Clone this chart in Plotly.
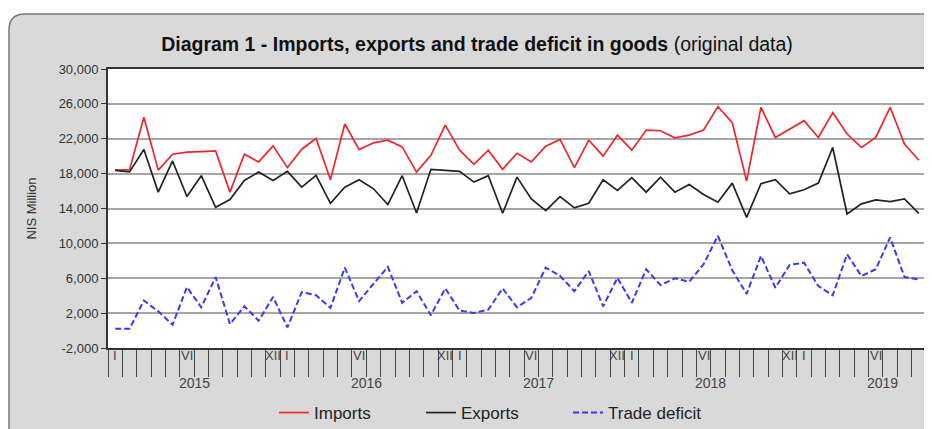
import plotly.graph_objects as go

years = [2015, 2016, 2017, 2018, 2019]
months_in_year = [12, 12, 12, 12, 9]
month_marks = {0: "I", 5: "VI", 11: "XII"}

imports = [18400, 18450, 24460, 18400, 20230, 20460, 20530, 20600, 15880, 20230, 19340, 21190,
           18690, 20800, 22030, 17300, 23690, 20760, 21530, 21840, 21070, 18180, 20100, 23570,
           20690, 19070, 20690, 18490, 20340, 19340, 21150, 21920, 18690, 21840, 20000, 22420,
           20690, 23000, 22920, 22110, 22420, 23000, 25690, 23840, 17150, 25610, 22150, 23070,
           24070, 22150, 25000, 22540, 21000, 22150, 25610, 21380, 19530]
exports = [18380, 18200, 20760, 15880, 19450, 15380, 17760, 14140, 15030, 17220, 18180, 17220,
           18260, 16450, 17800, 14600, 16450, 17300, 16260, 14450, 17760, 13490, 18490, 18380,
           18260, 17030, 17760, 13450, 17600, 15100, 13760, 15370, 14070, 14600, 17300, 16070,
           17530, 15870, 17600, 15870, 16760, 15600, 14720, 16910, 12990, 16840, 17300, 15680,
           16150, 16910, 21000, 13370, 14530, 14990, 14800, 15100, 13450]
deficit = [200, 200, 3440, 2200, 670, 4980, 2670, 6130, 740, 2780, 1130, 3860,
           360, 4400, 4050, 2600, 7220, 3370, 5370, 7300, 3180, 4520, 1750, 4830,
           2290, 2020, 2400, 4830, 2670, 3750, 7220, 6260, 4520, 6830, 2780, 6060,
           3180, 7030, 5220, 5990, 5600, 7600, 10870, 6910, 4210, 8560, 4910, 7530,
           7790, 5100, 4050, 8750, 6260, 7030, 10680, 6140, 5870]
y_ticks = list(range(-2000, 30001, 4000))
y_ticktext = [f"{v:,}" for v in y_ticks]

n = len(imports)
x = list(range(n))

FONT = "Liberation Sans, Arial, sans-serif"

fig = go.Figure()
fig.add_trace(go.Scatter(x=x, y=imports, mode="lines", name="Imports",
                         line=dict(color="#f0262b", width=1.7)))
fig.add_trace(go.Scatter(x=x, y=exports, mode="lines", name="Exports",
                         line=dict(color="#222222", width=1.7)))
fig.add_trace(go.Scatter(x=x, y=deficit, mode="lines", name="Trade deficit",
                         line=dict(color="#3a3af0", width=2, dash="6px,3px")))

# page geometry (the page body has an 8px margin, so the figure starts at 8,8)
OFF = 8
PW, PH = 932, 429
W, H = PW - OFF, PH - OFF
# plot area in page pixels
PL, PR, PT, PB = 108, 926, 69, 348
L, T = PL - OFF, PT - OFF
R, B = W - (PR - OFF), H - (PB - OFF)
pw, ph = W - L - R, H - T - B

def px(xp):
    return (xp - PL) / pw

def py(yp):
    return (PB - yp) / ph

# rounded frame
x0, y0, x1, y1, r = 9, 14, 960, 460, 16
path = (f"M {px(x0)},{py(y0 + r)} Q {px(x0)},{py(y0)} {px(x0 + r)},{py(y0)} "
        f"L {px(x1)},{py(y0)} L {px(x1)},{py(y1)} L {px(x0)},{py(y1)} Z")
shapes = [
    dict(type="path", xref="paper", yref="paper", path=path,
         fillcolor="#d9d9d9", line=dict(color="#7a7a7a", width=1.5), layer="below"),
    dict(type="rect", xref="paper", yref="paper", x0=0, x1=1, y0=0, y1=1,
         fillcolor="white", line=dict(width=0), layer="below"),
]

annotations = []
start = 0
major_ticks = []
minor_ticks = []
for yr, m in zip(years, months_in_year):
    major_ticks.append(start - 0.5)
    for k in range(m):
        minor_ticks.append(start + k - 0.5)
        if k in month_marks:
            annotations.append(dict(x=start + k, y=py(365), xref="x", yref="paper",
                                    text=month_marks[k], showarrow=False,
                                    font=dict(family=FONT, size=13, color="#444444")))
    annotations.append(dict(x=start + 5.5, y=py(393), xref="x", yref="paper",
                            text=str(yr), showarrow=False,
                            font=dict(family=FONT, size=14, color="#444444")))
    start += m
minor_ticks.append(start - 0.5)

fig.update_layout(
    width=W, height=H,
    margin=dict(l=L, r=R, t=T, b=B, autoexpand=False),
    paper_bgcolor="white",
    plot_bgcolor="white",
    shapes=shapes,
    annotations=annotations,
    title=dict(text="<b>Diagram 1 - Imports, exports and trade deficit in goods</b> (original data)",
               xref="container", x=(477 - OFF) / W, xanchor="center",
               yref="container", y=1 - (44 - OFF) / H, yanchor="middle",
               font=dict(family=FONT, size=19.5, color="#111111")),
    showlegend=True,
    legend=dict(orientation="h", x=px(274), xanchor="left", y=py(413), yanchor="middle",
                bgcolor="rgba(0,0,0,0)", font=dict(family=FONT, size=17, color="#222222"),
                entrywidth=102, entrywidthmode="pixels"),
    xaxis=dict(range=[-0.5, n - 0.5], showgrid=False, zeroline=False,
               showline=True, mirror=True, linecolor="#333333", linewidth=2,
               tickmode="array", tickvals=major_ticks, ticktext=[""] * len(major_ticks),
               ticks="outside", ticklen=55, tickcolor="#444444", tickwidth=1,
               minor=dict(tickvals=minor_ticks, ticks="outside", ticklen=27,
                          tickcolor="#444444", tickwidth=1, showgrid=False)),
    yaxis=dict(range=[-2000, 30000], tickmode="array", tickvals=y_ticks, ticktext=y_ticktext,
               showgrid=True, gridcolor="#a6a6a6", gridwidth=1.5,
               zeroline=False, showline=True, mirror=True, linecolor="#333333", linewidth=2,
               ticks="outside", ticklen=5, tickcolor="#333333",
               tickfont=dict(family=FONT, size=13, color="#333333"),
               title=dict(text="NIS Million", standoff=19,
                          font=dict(family=FONT, size=13, color="#333333"))),
)

fig.write_html("out.html")
